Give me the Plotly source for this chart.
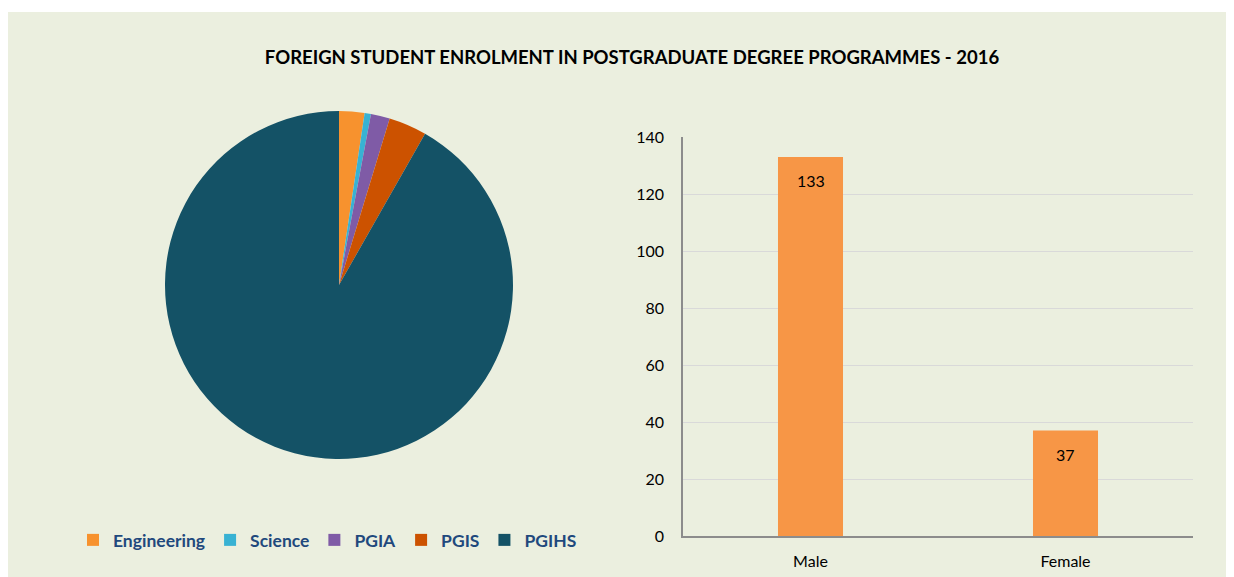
import plotly.graph_objects as go

# data
programmes = ["Engineering", "Science", "PGIA", "PGIS", "PGIHS"]
students = [4, 1, 3, 6, 156]
pie_colors = ["#F7922E", "#38B2D3", "#7F5BA6", "#CC5200", "#145266"]

genders = ["Male", "Female"]
gender_counts = [133, 37]

W, H = 1234, 577
OFF = 8  # page body margin
font = "Lato"


def px(x):
    return (x - OFF) / W


def py(y):
    return 1 - (y - OFF) / H


fig = go.Figure()

fig.add_trace(go.Pie(
    labels=programmes,
    values=students,
    sort=False,
    direction="clockwise",
    rotation=0,
    textinfo="none",
    hoverinfo="label+value+percent",
    marker=dict(colors=pie_colors, line=dict(width=0)),
    domain=dict(x=[px(165), px(513)], y=[py(459), py(111)]),
    showlegend=True,
))

fig.add_trace(go.Bar(
    x=genders,
    y=gender_counts,
    marker=dict(color="#F79646", line=dict(width=0)),
    showlegend=False,
    xaxis="x",
    yaxis="y",
))

# value labels inside the bars, a little below the top
annotations = [
    dict(x=g, y=v, xref="x", yref="y", text=str(v), showarrow=False,
         yanchor="middle", yshift=-24,
         font=dict(family=font, size=16, color="#000000"))
    for g, v in zip(genders, gender_counts)
]

fig.update_layout(
    width=W,
    height=H,
    margin=dict(l=0, r=0, t=0, b=0),
    paper_bgcolor="white",
    plot_bgcolor="rgba(0,0,0,0)",
    font=dict(family=font, color="#000000"),
    title=dict(
        text="<b>FOREIGN STUDENT ENROLMENT IN POSTGRADUATE DEGREE PROGRAMMES - 2016</b>",
        x=px(632), xanchor="center",
        y=py(58), yanchor="middle",
        font=dict(family=font, size=18.5, color="#000000"),
    ),
    xaxis=dict(
        domain=[px(683), px(1193)],
        anchor="y",
        automargin=False,
        showline=True, linecolor="#8C8C8C", linewidth=1.5,
        ticks="", showgrid=False,
        ticklabelstandoff=10,
        tickfont=dict(family=font, size=16, color="#000000"),
    ),
    yaxis=dict(
        domain=[py(536), py(137)],
        anchor="x",
        automargin=False,
        range=[0, 140], dtick=20,
        showline=True, linecolor="#8C8C8C", linewidth=1.5,
        gridcolor="#D9D9D9", gridwidth=1,
        zeroline=False,
        ticks="",
        ticklabelstandoff=14,
        tickfont=dict(family=font, size=16, color="#000000"),
    ),
    bargap=0.745,
    legend=dict(
        orientation="h",
        x=px(73), xanchor="left",
        y=py(540), yanchor="middle",
        font=dict(family=font, size=17.5, color="#1F497D", weight="bold"),
        bgcolor="rgba(0,0,0,0)",
        itemclick=False,
    ),
    annotations=annotations,
    shapes=[dict(
        type="rect", xref="paper", yref="paper", layer="below",
        x0=0, x1=1.01, y0=-0.02, y1=py(12),
        fillcolor="#EBEFDF", line=dict(width=0),
    )],
)

fig.write_html("out.html")
